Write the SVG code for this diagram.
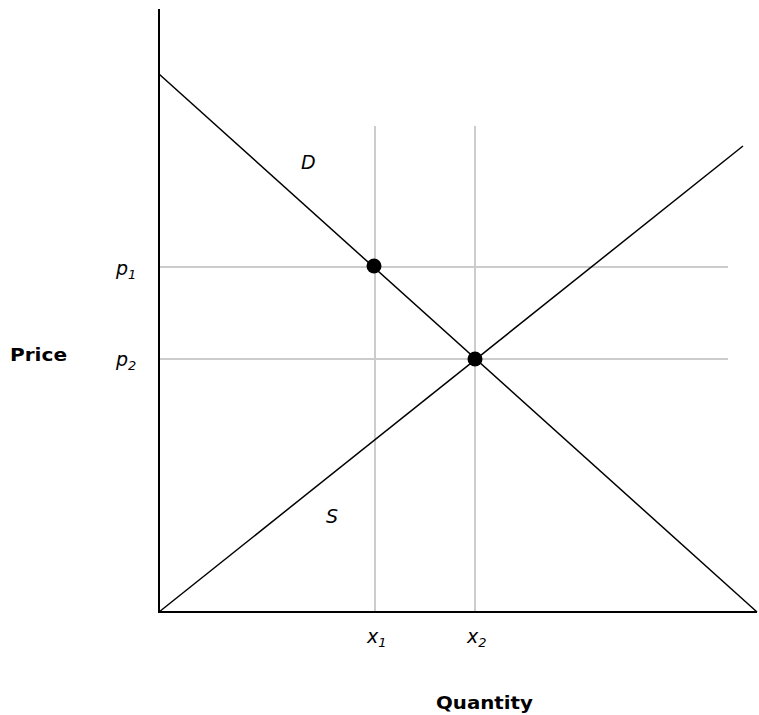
<svg xmlns="http://www.w3.org/2000/svg" width="759" height="715" viewBox="0 0 759 715">
<style>
.grid{stroke:#cccccc;stroke-width:2;fill:none}
.axis{stroke:#000;stroke-width:2;fill:none}
.curve{stroke:#000;stroke-width:1.5;fill:none}
.lbl{font-family:"DejaVu Sans",Verdana,sans-serif;font-size:19px;font-style:italic;fill:#000}
.sub{font-size:13px}
.title{font-family:"DejaVu Sans",Verdana,sans-serif;font-size:18px;font-weight:bold;fill:#000}
.pt{fill:#000}
</style>
<rect width="759" height="715" fill="#fff"/>
<g id="grid">
<line class="grid" x1="375" y1="126" x2="375" y2="612"/>
<line class="grid" x1="475" y1="126" x2="475" y2="612"/>
<line class="grid" x1="159" y1="267" x2="728" y2="267"/>
<line class="grid" x1="159" y1="359" x2="728" y2="359"/>
</g>
<g id="connectors">
<line class="curve" x1="159" y1="74" x2="757" y2="612"/>
<line class="curve" x1="159" y1="612" x2="743" y2="146"/>
</g>
<g id="axes">
<line class="axis" x1="159" y1="9" x2="159" y2="613"/>
<line class="axis" x1="158" y1="612" x2="757" y2="612"/>
</g>
<g id="point1"><circle class="pt" cx="374" cy="266" r="7.5"/></g>
<g id="point2"><circle class="pt" cx="475" cy="359" r="7.5"/></g>
<g id="labels">
<text class="lbl" x="116" y="275">p<tspan class="sub" dy="4">1</tspan></text>
<text class="lbl" x="116" y="366">p<tspan class="sub" dy="4">2</tspan></text>
<text class="lbl" x="367" y="643">x<tspan class="sub" dy="4">1</tspan></text>
<text class="lbl" x="467" y="643">x<tspan class="sub" dy="4">2</tspan></text>
<text class="lbl" x="301" y="169">D</text>
<text class="lbl" x="326" y="523">S</text>
<text class="title" x="10" y="361" textLength="57" lengthAdjust="spacingAndGlyphs">Price</text>
<text class="title" x="436" y="709" textLength="97" lengthAdjust="spacingAndGlyphs">Quantity</text>
</g>
</svg>
